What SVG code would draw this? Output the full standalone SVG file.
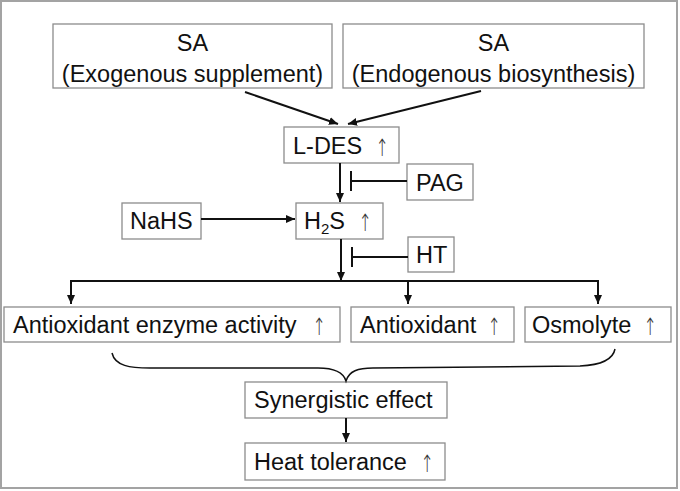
<svg xmlns="http://www.w3.org/2000/svg" width="680" height="491" viewBox="0 0 680 491">
<style>
.box{fill:#fff;stroke:#8c8c8c;stroke-width:1.3}
.t{font-family:"Liberation Sans",Arial,sans-serif;font-size:23.5px;fill:#111}
.m{text-anchor:middle}
.up{font-family:"DejaVu Sans","Liberation Sans",sans-serif;font-size:24px;font-weight:200;fill:#333;text-anchor:middle}
.c{fill:none;stroke:#111;stroke-width:2}
.br{fill:none;stroke:#111;stroke-width:1.5}
</style>
<defs>
<marker id="ah" markerUnits="userSpaceOnUse" markerWidth="10" markerHeight="10" viewBox="0 0 10 10" refX="9" refY="5" orient="auto">
<path d="M0,1 L9,5 L0,9 Z" fill="#111"/>
</marker>
</defs>
<rect x="1" y="1" width="676" height="487" fill="#fff" stroke="#a3a3a3" stroke-width="2"/>

<g id="sa-exo">
<rect class="box" x="53" y="24" width="279" height="64"/>
<text class="t m" x="192.5" y="51">SA</text>
<text class="t m" x="192.5" y="82">(Exogenous supplement)</text>
</g>
<g id="sa-endo">
<rect class="box" x="343" y="24" width="301" height="64"/>
<text class="t m" x="493.5" y="51">SA</text>
<text class="t m" x="493.5" y="82">(Endogenous biosynthesis)</text>
</g>
<g id="ldes">
<rect class="box" x="284" y="127" width="115" height="36"/>
<text class="t" x="293" y="154">L-DES</text>
<text class="up" transform="translate(382,156) scale(0.65,1)">↑</text>
</g>
<g id="pag">
<rect class="box" x="407" y="164" width="66" height="36"/>
<text class="t" x="416" y="191">PAG</text>
</g>
<g id="nahs">
<rect class="box" x="122" y="203" width="79" height="36"/>
<text class="t" x="130" y="229">NaHS</text>
</g>
<g id="h2s">
<rect class="box" x="296" y="203" width="87" height="36"/>
<text class="t" x="304" y="229">H<tspan font-size="15" dy="5">2</tspan><tspan dy="-5">S</tspan></text>
<text class="up" transform="translate(365,231) scale(0.65,1)">↑</text>
</g>
<g id="ht">
<rect class="box" x="408" y="237" width="46" height="35"/>
<text class="t" x="416" y="263">HT</text>
</g>
<g id="enzyme">
<rect class="box" x="4" y="307" width="336" height="35"/>
<text class="t" x="13" y="333">Antioxidant enzyme activity</text>
<text class="up" transform="translate(319,335) scale(0.65,1)">↑</text>
</g>
<g id="antioxidant">
<rect class="box" x="351" y="307" width="163" height="35"/>
<text class="t" x="360" y="333">Antioxidant</text>
<text class="up" transform="translate(494,335) scale(0.65,1)">↑</text>
</g>
<g id="osmolyte">
<rect class="box" x="525" y="307" width="146" height="35"/>
<text class="t" x="532" y="333">Osmolyte</text>
<text class="up" transform="translate(650,335) scale(0.65,1)">↑</text>
</g>
<g id="synergistic">
<rect class="box" x="245" y="382" width="202" height="36"/>
<text class="t" x="254" y="408">Synergistic effect</text>
</g>
<g id="heat">
<rect class="box" x="245" y="443" width="200" height="37"/>
<text class="t" x="254" y="470">Heat tolerance</text>
<text class="up" transform="translate(427,472) scale(0.65,1)">↑</text>
</g>

<g id="connectors">
<line class="c" x1="245" y1="92" x2="338" y2="124" marker-end="url(#ah)"/>
<line class="c" x1="481" y1="91" x2="348" y2="124" marker-end="url(#ah)"/>
<line class="c" x1="340" y1="163" x2="340" y2="202" marker-end="url(#ah)"/>
<line class="c" x1="407" y1="181" x2="351" y2="181"/>
<line class="c" x1="351" y1="171" x2="351" y2="191"/>
<line class="c" x1="201" y1="219" x2="295" y2="219" marker-end="url(#ah)"/>
<line class="c" x1="341" y1="239" x2="341" y2="281" marker-end="url(#ah)"/>
<line class="c" x1="408" y1="257" x2="352" y2="257"/>
<line class="c" x1="352" y1="247" x2="352" y2="267"/>
<path class="c" d="M71,281 H598 V304" marker-end="url(#ah)"/>
<line class="c" x1="71" y1="280" x2="71" y2="304" marker-end="url(#ah)"/>
<line class="c" x1="408" y1="281" x2="408" y2="304" marker-end="url(#ah)"/>
<path class="br" d="M112,353 C115,366 130,368 150,368 L318,368 C333,368 343,371 346,381 C349,371 358,368 373,368 L580,366 C601,365 613,360 615,349"/>
<line class="c" x1="346" y1="418" x2="346" y2="442" marker-end="url(#ah)"/>
</g>
</svg>
